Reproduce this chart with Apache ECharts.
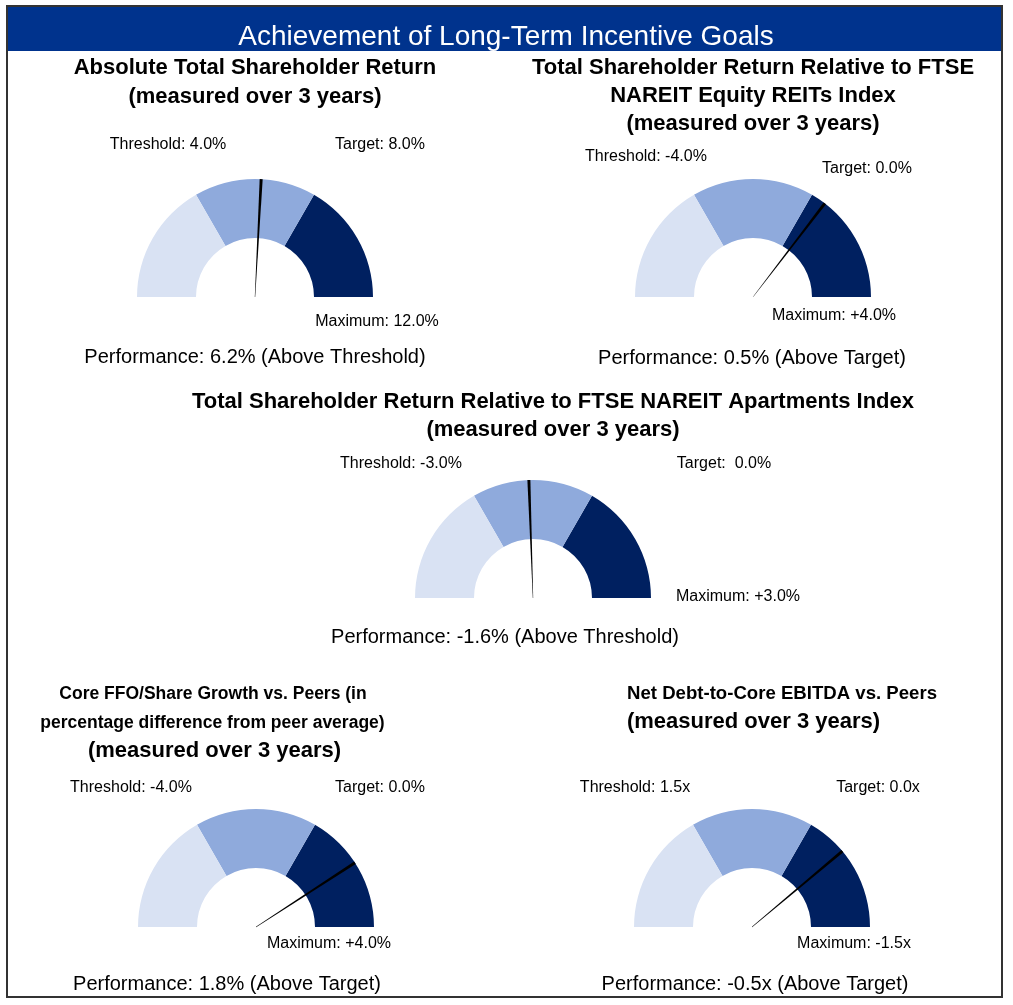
<!DOCTYPE html>
<html>
<head>
<meta charset="utf-8">
<script src="https://cdn.jsdelivr.net/npm/echarts@6/dist/echarts.min.js"></script>
<style>html,body{margin:0;padding:0;background:#fff}#c{width:1013px;height:1005px}</style>
</head>
<body>
<div id="c"></div>
<script>
// ---- data ----
const mainTitle = 'Achievement of Long-Term Incentive Goals';
const gaugeTitles = [
  ['Absolute Total Shareholder Return', '(measured over 3 years)'],
  ['Total Shareholder Return Relative to FTSE', 'NAREIT Equity REITs Index', '(measured over 3 years)'],
  ['Total Shareholder Return Relative to FTSE NAREIT Apartments Index', '(measured over 3 years)'],
  ['Core FFO/Share Growth vs. Peers (in', 'percentage difference from peer average)', '(measured over 3 years)'],
  ['Net Debt-to-Core EBITDA vs. Peers', '(measured over 3 years)']
];
const scaleMin   = [0, -8, -6, -8, 3.0];
const thresholds = [4.0, -4.0, -3.0, -4.0, 1.5];
const targets    = [8.0, 0.0, 0.0, 0.0, 0.0];
const maximums   = [12.0, 4.0, 3.0, 4.0, -1.5];
const performance = [6.2, 0.5, -1.6, 1.8, -0.5];
const thresholdLabels = ['Threshold: 4.0%', 'Threshold: -4.0%', 'Threshold: -3.0%', 'Threshold: -4.0%', 'Threshold: 1.5x'];
const targetLabels    = ['Target: 8.0%', 'Target: 0.0%', 'Target:  0.0%', 'Target: 0.0%', 'Target: 0.0x'];
const maximumLabels   = ['Maximum: 12.0%', 'Maximum: +4.0%', 'Maximum: +3.0%', 'Maximum: +4.0%', 'Maximum: -1.5x'];
const performanceLabels = [
  'Performance: 6.2% (Above Threshold)',
  'Performance: 0.5% (Above Target)',
  'Performance: -1.6% (Above Threshold)',
  'Performance: 1.8% (Above Target)',
  'Performance: -0.5x (Above Target)'
];

// ---- layout ----
const centers = [[255, 297], [753, 297], [533, 598], [256, 927], [752, 927]];
const titleY = [[68, 97], [68, 96, 124], [402, 430], [694, 723, 751], [694, 722]];
const titleX = [[255, 255], [753, 753, 753], [553, 553], [213, 212.5, 214.5], [782, 753.5]];
const titleFS = [[22, 22], [22, 22, 22], [22, 22], [17.5, 17.5, 22], [18.6, 22]];
const thrPos = [[168, 145], [646, 157], [401, 464], [131, 788], [635, 788]];
const tgtPos = [[380, 145], [867, 169], [724, 464], [380, 788], [878, 788]];
const maxPos = [[377, 322], [834, 316], [738, 597], [329, 944], [854, 944]];
const perfPos = [[255, 357], [752, 358], [505, 637], [227, 984], [755, 984]];

const FONT = '"Liberation Sans", Arial, sans-serif';
const C_LIGHT = '#D9E2F3', C_MED = '#8FAADC', C_DARK = '#002060';

const series = centers.map((c, i) => {
  const span = maximums[i] - scaleMin[i];
  const s1 = (thresholds[i] - scaleMin[i]) / span;
  const s2 = (targets[i] - scaleMin[i]) / span;
  return {
    type: 'gauge',
    center: c,
    radius: 118,
    startAngle: 180,
    endAngle: 0,
    min: scaleMin[i],
    max: maximums[i],
    splitNumber: 3,
    axisLine: { lineStyle: { width: 59, color: [[s1, C_LIGHT], [s2, C_MED], [1, C_DARK]] } },
    splitLine: { show: false },
    axisTick: { show: false },
    axisLabel: { show: false },
    pointer: {
      icon: 'path://M0,0L4,0L2.25,40L1.75,40Z',
      length: '100%',
      width: 3,
      offsetCenter: [0, 0],
      itemStyle: { color: '#000' }
    },
    anchor: { show: false },
    title: { show: false },
    detail: { show: false },
    progress: { show: false },
    animation: false,
    data: [{ value: performance[i] }]
  };
});

const graphics = [];
graphics.push({ type: 'rect', shape: { x: 8, y: 7, width: 994, height: 44 }, style: { fill: '#00338D' }, z: 1 });
graphics.push({ type: 'text', x: 506, y: 37, style: { text: mainTitle, fill: '#fff', font: '28px ' + FONT, align: 'center', verticalAlign: 'middle' }, z: 2 });
graphics.push({ type: 'rect', shape: { x: 7, y: 6, width: 995, height: 991 }, style: { fill: null, stroke: '#333', lineWidth: 2 }, z: 3 });

function txt(t, x, y, font) {
  graphics.push({ type: 'text', x: x, y: y, style: { text: t, fill: '#000', font: font, align: 'center', verticalAlign: 'middle' }, z: 2 });
}
gaugeTitles.forEach((lines, i) => {
  lines.forEach((l, j) => txt(l, titleX[i][j], titleY[i][j], 'bold ' + titleFS[i][j] + 'px ' + FONT));
  txt(thresholdLabels[i], thrPos[i][0], thrPos[i][1], '16px ' + FONT);
  txt(targetLabels[i], tgtPos[i][0], tgtPos[i][1], '16px ' + FONT);
  txt(maximumLabels[i], maxPos[i][0], maxPos[i][1], '16px ' + FONT);
  txt(performanceLabels[i], perfPos[i][0], perfPos[i][1], '20px ' + FONT);
});

const chart = echarts.init(document.getElementById('c'));
chart.setOption({ animation: false, series: series, graphic: graphics });
</script>
</body>
</html>
